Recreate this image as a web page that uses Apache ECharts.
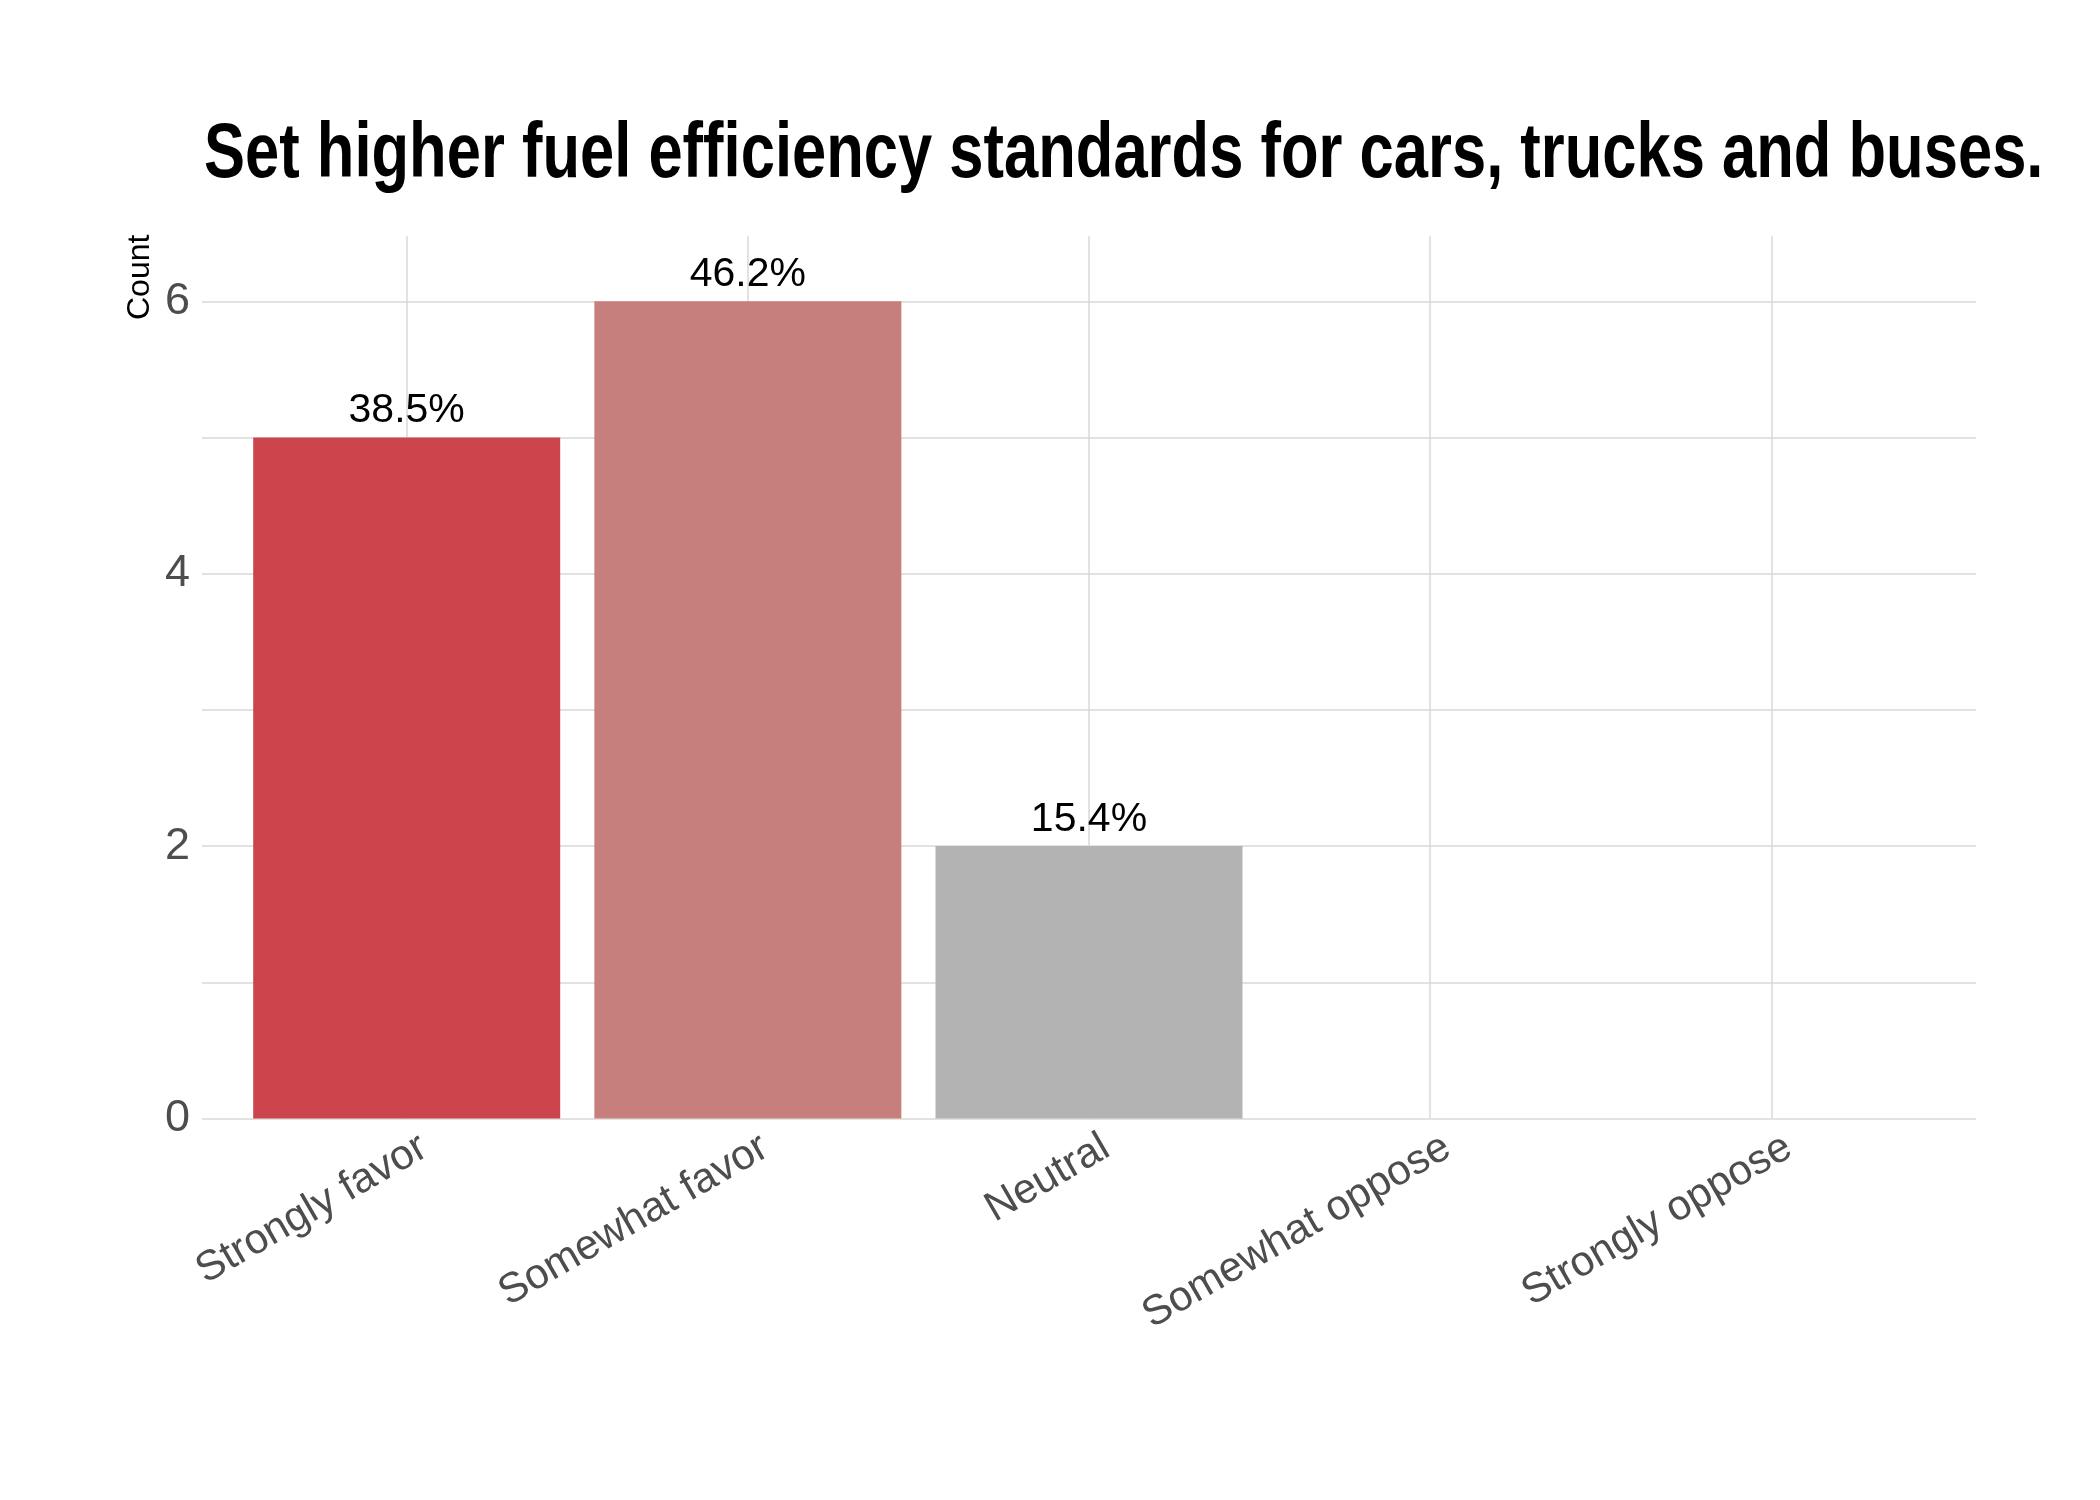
<!DOCTYPE html>
<html>
<head>
<meta charset="utf-8">
<script src="https://cdn.jsdelivr.net/npm/echarts@6/dist/echarts.min.js"></script>
<style>
html,body{margin:0;padding:0;background:#fff;}
#chart{width:2100px;height:1500px;}
</style>
</head>
<body>
<div id="chart"></div>
<script>
const titleText = 'Set higher fuel efficiency standards for cars, trucks and buses.';
const categories = ['Strongly favor', 'Somewhat favor', 'Neutral', 'Somewhat oppose', 'Strongly oppose'];
const counts = [5, 6, 2, 0, 0];
const pctLabels = ['38.5%', '46.2%', '15.4%', '', ''];
const barColors = ['#CC454C', '#C67F7D', '#B3B3B3', '#8FA8C8', '#4A7BB7'];
const yTicks = [0, 2, 4, 6];

const FONT = "'Liberation Sans Narrow', 'Arial Narrow', 'Liberation Sans', sans-serif";

const chart = echarts.init(document.getElementById('chart'), null, {renderer: 'canvas'});
const seriesData = categories.map((c, i) => ({
  value: [i + 1, counts[i]],
  itemStyle: {color: barColors[i]},
  label: {show: counts[i] > 0}
}));

chart.setOption({
  backgroundColor: '#ffffff',
  animation: false,
  graphic: [{
    type: 'text',
    x: 204,
    y: 117,
    scaleX: 0.799,
    originX: 0,
    originY: 0,
    style: {
      text: titleText,
      font: "bold 77px 'Liberation Sans', Arial, sans-serif",
      fill: '#000',
      textAlign: 'left',
      textVerticalAlign: 'top'
    }
  }],
  grid: {left: 202, right: 124, top: 236, bottom: 381.5, containLabel: false},
  xAxis: {
    type: 'value',
    min: 0.4,
    max: 5.6,
    splitNumber: 5,
    axisLine: {show: false},
    axisTick: {show: false},
    splitLine: {show: true, showMinLine: false, showMaxLine: false, lineStyle: {color: '#d9d9d9', width: 1.5}},
    axisLabel: {
      show: true,
      showMinLabel: false,
      showMaxLabel: false,
      rotate: 30,
      margin: 36,
      padding: [0, -20, 0, 0],
      fontFamily: FONT,
      fontSize: 42,
      color: '#4D4D4D',
      formatter: v => (Number.isInteger(v) && v >= 1 && v <= categories.length) ? categories[v - 1] : ''
    }
  },
  yAxis: {
    type: 'value',
    min: 0,
    max: 6.48,
    interval: 1,
    name: 'Count',
    nameLocation: 'end',
    nameRotate: 90,
    nameGap: -84,
    nameTextStyle: {fontFamily: FONT, fontSize: 32, color: '#000', verticalAlign: 'bottom', padding: [0, 0, 46, 0]},
    axisLine: {show: false},
    axisTick: {show: false},
    splitLine: {show: true, showMaxLine: false, lineStyle: {color: '#d9d9d9', width: 1.5}},
    axisLabel: {
      showMaxLabel: false,
      margin: 12,
      fontFamily: FONT,
      fontSize: 45,
      color: '#4D4D4D',
      formatter: v => yTicks.includes(v) ? String(v) : ''
    }
  },
  series: [{
    type: 'bar',
    data: seriesData,
    barWidth: 307,
    label: {
      position: 'top',
      distance: 6,
      fontFamily: FONT,
      fontSize: 41,
      color: '#000',
      formatter: p => pctLabels[p.dataIndex]
    }
  }]
});
</script>
</body>
</html>
